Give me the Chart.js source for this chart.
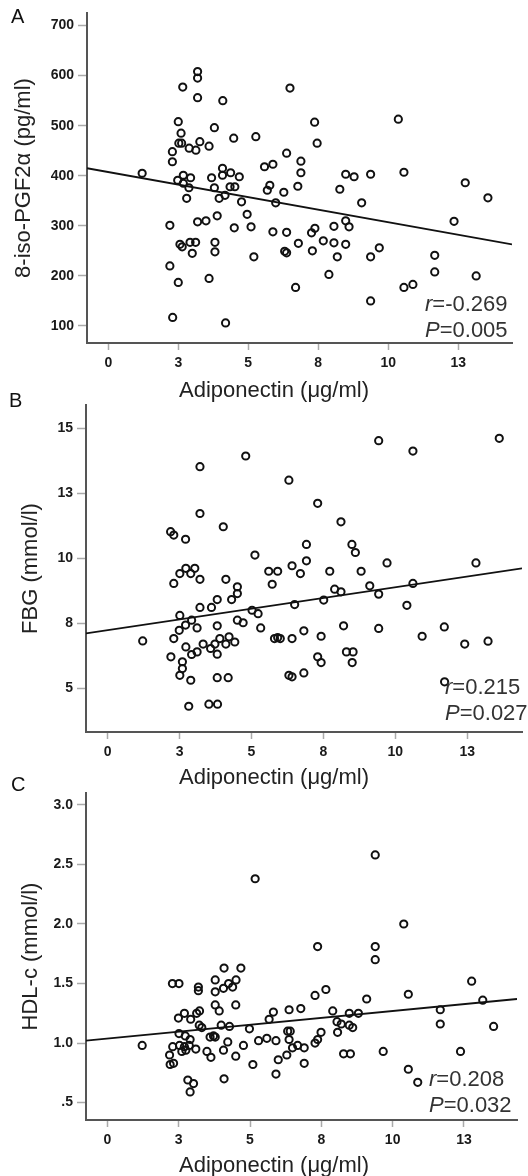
<!DOCTYPE html>
<html>
<head>
<meta charset="utf-8">
<script src="https://cdn.jsdelivr.net/npm/chart.js@4.4.1/dist/chart.umd.min.js"></script>
<style>
  body { margin: 0; background: #fff; width: 528px; height: 1176px; position: relative; overflow: hidden;
         font-family: "Liberation Sans", Arial, sans-serif; }
  canvas { position: absolute; left: 0; }
  .lbl { position: absolute; color: #111; font-size: 20px; line-height: 20px; }
  .stat { position: absolute; color: #333; font-size: 22px; line-height: 26px; white-space: nowrap; }
  .xt { position: absolute; left: 124px; width: 300px; text-align: center; color: #222;
        font-size: 22px; line-height: 22px; white-space: nowrap; }
</style>
</head>
<body>
<canvas id="chartA" width="528" height="401" style="top:0px"></canvas>
<canvas id="chartB" width="528" height="398" style="top:390px"></canvas>
<canvas id="chartC" width="528" height="396" style="top:780px"></canvas>

<div class="lbl" style="left:11px;top:6px">A</div>
<div class="lbl" style="left:9px;top:390px">B</div>
<div class="lbl" style="left:11px;top:774px">C</div>

<div class="stat" style="left:425px;top:291px"><i>r</i>=-0.269<br><i>P</i>=0.005</div>
<div class="stat" style="left:445px;top:674px"><i>r</i>=0.215<br><i>P</i>=0.027</div>
<div class="stat" style="left:429px;top:1066px"><i>r</i>=0.208<br><i>P</i>=0.032</div>

<div class="xt" style="top:379px">Adiponectin (μg/ml)</div>
<div class="xt" style="top:766px">Adiponectin (μg/ml)</div>
<div class="xt" style="top:1154px">Adiponectin (μg/ml)</div>

<script>
// x axis (shared): ticks every 2.5, printed rounded like the original
var xTicks = [0, 2.5, 5, 7.5, 10, 12.5];
var xTickLabels = ['0', '3', '5', '8', '10', '13'];

// A: 8-iso-PGF2a vs adiponectin
var xA = [1.21, 2.5, 2.6, 2.29, 2.29, 2.52, 2.62, 2.66, 3.19, 3.19, 3.19, 2.89, 3.13, 3.27, 3.6, 3.79, 4.09, 4.48, 5.27,
  2.48, 2.68, 2.94, 2.68, 2.88, 3.69, 3.79, 4.08, 4.08, 4.37, 4.68, 4.35, 4.52, 5.58, 6.49, 7.37, 10.36, 7.46, 6.37,
  5.88, 6.88, 6.88, 5.77, 5.68, 6.27, 6.77, 8.27, 8.48, 8.78, 9.37, 10.56, 12.75, 13.56, 2.2, 2.8, 3.19, 3.49, 3.89,
  4.5, 4.96, 5.1, 3.96, 4.17, 4.76, 2.56, 2.64, 2.92, 3.12, 3.0, 3.81, 3.81, 5.2, 2.2, 2.5, 3.6, 2.3, 4.19, 5.98, 9.05,
  12.35, 8.48, 8.6, 8.06, 7.38, 7.26, 5.88, 6.37, 6.79, 6.3, 6.37, 7.29, 7.68, 8.06, 8.48, 8.18, 9.37, 9.68, 7.88,
  6.69, 9.37, 10.56, 10.88, 11.66, 11.66, 13.14];
var yA = [405, 508, 485, 448, 428, 465, 465, 577, 608, 595, 556, 455, 451, 468, 459, 496, 550, 475, 478,
  391, 401, 396, 385, 376, 396, 376, 415, 401, 406, 398, 378, 378, 418, 575, 507, 513, 465, 445,
  423, 429, 406, 381, 371, 367, 379, 373, 403, 398, 403, 407, 386, 356, 301, 355, 308, 310, 320,
  296, 323, 298, 355, 361, 348, 263, 258, 267, 267, 245, 267, 248, 238, 220, 187, 195, 117, 106, 346, 346,
  309, 310, 298, 299, 295, 286, 288, 287, 265, 249, 246, 250, 270, 266, 263, 238, 238, 256, 203,
  177, 150, 177, 183, 241, 208, 200];
var fitA = [415, 263];
var yTicksA = [100, 200, 300, 400, 500, 600, 700];
var yLabelsA = ['100', '200', '300', '400', '500', '600', '700'];

// B: FBG vs adiponectin
var xB = [1.22, 4.8, 3.21, 3.21, 4.02, 2.19, 2.3, 2.71, 5.12, 2.3, 2.51, 2.72, 3.03, 2.89, 3.21, 4.11, 4.51, 4.51, 4.31,
  3.81, 3.61, 3.21, 2.51, 2.92, 2.71, 2.49, 3.11, 2.3, 3.81, 4.51, 4.71, 5.02, 5.23, 5.32, 2.72, 2.92, 3.11, 3.32,
  3.58, 3.73, 3.9, 3.81, 4.11, 4.22, 4.42, 2.2, 2.6, 2.6, 2.51, 2.89, 3.81, 4.19, 2.82, 3.52, 3.82,
  9.42, 10.61, 13.61, 6.3, 7.3, 8.11, 6.91, 8.49, 8.61, 6.91, 6.41, 9.71, 12.8, 5.6, 5.91, 5.72, 6.7, 7.72, 8.81,
  9.11, 10.61, 7.89, 8.11, 9.42, 7.51, 6.5, 10.4, 5.8, 5.91, 6.0, 6.41, 6.82, 7.42, 8.2, 9.42, 10.93, 11.7, 12.41,
  13.22, 7.3, 7.42, 8.3, 8.53, 8.5, 6.3, 6.41, 6.82, 11.71];
var yB = [6.83, 13.94, 13.53, 11.73, 11.22, 11.03, 10.9, 10.74, 10.13, 9.04, 9.42, 9.62, 9.62, 9.42, 9.2, 9.2, 8.91, 8.65, 8.42,
  8.42, 8.12, 8.12, 7.81, 7.63, 7.44, 7.24, 7.33, 6.92, 7.41, 7.63, 7.53, 8.01, 7.88, 7.33, 6.6, 6.31, 6.41, 6.71,
  6.54, 6.71, 6.92, 6.32, 6.71, 6.99, 6.79, 6.22, 6.03, 5.77, 5.51, 5.32, 5.42, 5.42, 4.32, 4.4, 4.4,
  14.53, 14.13, 14.62, 13.01, 12.12, 11.41, 10.54, 10.54, 10.23, 9.91, 9.72, 9.83, 9.83, 9.51, 9.51, 9.01, 9.42, 9.51, 9.51,
  8.95, 9.04, 8.82, 8.72, 8.63, 8.4, 8.23, 8.2, 6.92, 6.96, 6.92, 6.92, 7.22, 7.01, 7.41, 7.31, 7.01, 7.37, 6.71,
  6.82, 6.22, 6.0, 6.41, 6.41, 6.0, 5.51, 5.45, 5.6, 5.26];
var fitB = [7.12, 9.62];
var yTicksB = [5, 7.5, 10, 12.5, 15];
var yLabelsB = ['5', '8', '10', '13', '15'];

// C: HDL-c vs adiponectin
var xC = [1.22, 5.18, 2.28, 2.51, 3.19, 3.19, 4.09, 4.68, 3.78, 4.25, 4.51, 4.07, 4.39, 3.78, 3.78, 3.92, 4.5, 3.23, 3.13,
  2.7, 2.49, 2.92, 3.22, 3.31, 3.99, 4.28, 4.98, 2.51, 2.73, 3.6, 3.78, 3.72, 4.22, 5.3, 2.9, 2.29, 2.53, 2.7, 2.61,
  2.75, 2.87, 3.1, 3.49, 4.07, 4.77, 2.18, 3.63, 4.5, 2.2, 2.32, 5.1, 2.82, 3.02, 2.9, 4.09,
  9.39, 10.39, 9.39, 9.39, 7.37, 12.77, 10.55, 7.66, 7.28, 9.09, 13.16, 5.82, 5.67, 6.37, 6.78, 7.9, 8.48, 8.8,
  11.67, 11.67, 8.05, 8.2, 8.48, 8.6, 13.54, 6.32, 6.41, 7.49, 8.07, 5.59, 5.91, 6.37, 7.37, 7.28, 6.67, 6.49, 6.9,
  6.29, 5.99, 6.9, 8.28, 8.52, 9.67, 12.38, 5.91, 10.55, 10.88];
var yC = [0.98, 2.38, 1.5, 1.5, 1.47, 1.44, 1.63, 1.63, 1.53, 1.5, 1.53, 1.46, 1.47, 1.43, 1.32, 1.27, 1.32, 1.27, 1.25,
  1.25, 1.21, 1.2, 1.15, 1.13, 1.15, 1.14, 1.12, 1.08, 1.06, 1.05, 1.05, 1.06, 1.01, 1.02, 1.03, 0.97, 0.98, 0.97, 0.93,
  0.94, 0.98, 0.95, 0.93, 0.94, 0.98, 0.9, 0.88, 0.89, 0.82, 0.83, 0.82, 0.69, 0.66, 0.59, 0.7,
  2.58, 2.0, 1.81, 1.70, 1.81, 1.52, 1.41, 1.45, 1.40, 1.37, 1.36, 1.26, 1.2, 1.28, 1.29, 1.27, 1.25, 1.25,
  1.28, 1.16, 1.18, 1.16, 1.15, 1.13, 1.14, 1.1, 1.1, 1.09, 1.09, 1.04, 1.02, 1.03, 1.03, 1.0, 0.98, 0.96, 0.96,
  0.9, 0.86, 0.83, 0.91, 0.91, 0.93, 0.93, 0.74, 0.78, 0.67];
var fitC = [1.02, 1.37];
var yTicksC = [0.5, 1, 1.5, 2, 2.5, 3];
var yLabelsC = ['.5', '1.0', '1.5', '2.0', '2.5', '3.0'];

var FONT = '"Liberation Sans", Arial, sans-serif';

function makePanel(id, p) {
  var pts = p.xs.map(function (x, i) { return { x: x, y: p.ys[i] }; });
  var ctx = document.getElementById(id).getContext('2d');
  return new Chart(ctx, {
    type: 'scatter',
    data: {
      datasets: [{
        data: pts,
        pointStyle: 'circle',
        pointRadius: 3.6,
        pointHoverRadius: 3.6,
        borderWidth: 2,
        borderColor: '#111',
        backgroundColor: 'rgba(0,0,0,0)'
      }, {
        type: 'line',
        data: [{ x: p.xMin, y: p.fit[0] }, { x: p.xMax, y: p.fit[1] }],
        borderColor: '#111',
        borderWidth: 1.8,
        pointRadius: 0,
        fill: false
      }]
    },
    options: {
      responsive: false,
      animation: false,
      devicePixelRatio: 1,
      events: [],
      layout: { padding: { top: p.padTop, right: p.padRight, left: 0, bottom: 0 } },
      plugins: { legend: { display: false }, tooltip: { enabled: false } },
      scales: {
        x: {
          type: 'linear',
          min: p.xMin,
          max: p.xMax,
          afterBuildTicks: function (s) { s.ticks = xTicks.map(function (v) { return { value: v }; }); },
          afterFit: function (s) { s.height = p.xHeight; },
          ticks: {
            autoSkip: false, maxRotation: 0, padding: 5, color: '#1a1a1a',
            font: { family: FONT, size: 14, weight: 'bold' },
            callback: function (v, i) { return xTickLabels[i]; }
          },
          grid: { drawOnChartArea: false, drawTicks: true, tickLength: 7, tickColor: '#aaa', tickWidth: 1.5 },
          border: { display: true, color: '#555', width: 2 }
        },
        y: {
          type: 'linear',
          min: p.yMin,
          max: p.yMax,
          afterBuildTicks: function (s) { s.ticks = p.yTicks.map(function (v) { return { value: v }; }); },
          afterFit: function (s) { s.width = p.yWidth; },
          ticks: {
            autoSkip: false, padding: 4, color: '#1a1a1a',
            font: { family: FONT, size: 14, weight: 'bold' },
            callback: function (v, i) { return p.yLabels[i]; }
          },
          grid: { drawOnChartArea: false, drawTicks: true, tickLength: 9, tickColor: '#aaa', tickWidth: 1.5 },
          border: { display: true, color: '#555', width: 2 },
          title: {
            display: true, text: p.yTitle, color: '#222',
            font: { family: FONT, size: 22, lineHeight: 1 },
            padding: { top: p.titlePad, bottom: 0 }
          }
        }
      }
    }
  });
}

makePanel('chartA', {
  xs: xA, ys: yA, fit: fitA, yTicks: yTicksA, yLabels: yLabelsA,
  yTitle: '8-iso-PGF2α (pg/ml)',
  xMin: -0.76, xMax: 14.42, yMin: 66, yMax: 725,
  padTop: 13, padRight: 16, yWidth: 87, xHeight: 58, titlePad: 13
});
makePanel('chartB', {
  xs: xB, ys: yB, fit: fitB, yTicks: yTicksB, yLabels: yLabelsB,
  yTitle: 'FBG (mmol/l)',
  xMin: -0.75, xMax: 14.4, yMin: 3.33, yMax: 15.9,
  padTop: 15, padRight: 6, yWidth: 86, xHeight: 56, titlePad: 19.5
});
makePanel('chartC', {
  xs: xC, ys: yC, fit: fitC, yTicks: yTicksC, yLabels: yLabelsC,
  yTitle: 'HDL-c (mmol/l)',
  xMin: -0.75, xMax: 14.36, yMin: 0.354, yMax: 3.10,
  padTop: 13, padRight: 11, yWidth: 86, xHeight: 56, titlePad: 19.5
});
</script>
</body>
</html>
